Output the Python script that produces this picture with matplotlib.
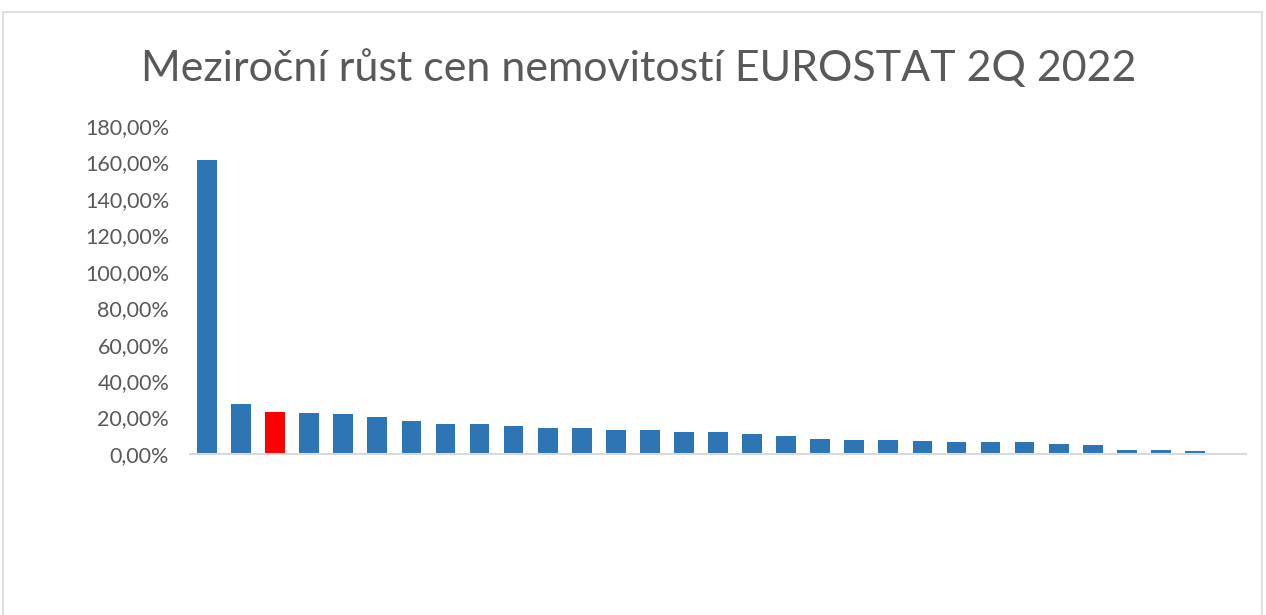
"""
Year-on-year house price growth, EUROSTAT 2Q 2022 (Excel-style bar chart).
"""

import matplotlib.pyplot as plt
from matplotlib.patches import Rectangle
from matplotlib.ticker import FuncFormatter

TITLE = "Meziroční růst cen nemovitostí EUROSTAT 2Q 2022"

# year-on-year growth in %, sorted descending; last slot is empty in the source
GROWTH = [
    161.5, 27.5, 23.1, 22.5, 22.0, 20.3, 18.1, 16.5, 16.3, 15.2,
    14.1, 14.1, 13.0, 13.0, 11.9, 11.9, 10.8, 9.7, 8.1, 7.6,
    7.6, 7.0, 6.4, 6.4, 6.4, 5.3, 4.8, 2.0, 2.0, 1.5, 0.0,
]
HIGHLIGHT = 2  # index of the bar drawn in red

COLOR_BAR = "#2e75b6"
COLOR_HIGHLIGHT = "#ff0000"
COLOR_TEXT = "#595959"
COLOR_AXIS = "#d9d9d9"

W, H = 1266, 615
DPI = 100


def pct_label(v, _pos):
    return f"{v:.2f}".replace(".", ",") + "%"


def main():
    plt.rcParams["font.family"] = ["Lato", "DejaVu Sans"]
    fig = plt.figure(figsize=(W / DPI, H / DPI), dpi=DPI)

    # chart-area border like the Excel frame
    fig.patches.append(Rectangle((3 / W, -0.1), 1259 / W, 1.1 - 12 / H,
                                 transform=fig.transFigure, fill=False,
                                 edgecolor=COLOR_AXIS, linewidth=1.2))

    left, right = 190, 1246
    bottom, top = 454, 126
    ax = fig.add_axes([left / W, 1 - bottom / H, (right - left) / W, (bottom - top) / H])

    colors = [COLOR_HIGHLIGHT if i == HIGHLIGHT else COLOR_BAR for i in range(len(GROWTH))]
    ax.bar(range(len(GROWTH)), GROWTH, width=0.58, color=colors, zorder=2)

    ax.set_xlim(-0.5, len(GROWTH) - 0.5)
    ax.set_ylim(0, 180)
    ax.set_yticks(range(0, 181, 20))
    ax.yaxis.set_major_formatter(FuncFormatter(pct_label))
    ax.tick_params(axis="y", length=0, pad=15, labelsize=15.5, labelcolor=COLOR_TEXT)
    ax.set_xticks([])

    for side in ["top", "right", "left"]:
        ax.spines[side].set_visible(False)
    ax.spines["bottom"].set_color(COLOR_AXIS)
    ax.spines["bottom"].set_linewidth(1.5)

    fig.text(639 / W, 1 - 69 / H, TITLE, ha="center", va="center",
             fontsize=31, color=COLOR_TEXT)

    fig.savefig("out.png", dpi=DPI)
    plt.close(fig)


if __name__ == "__main__":
    main()
